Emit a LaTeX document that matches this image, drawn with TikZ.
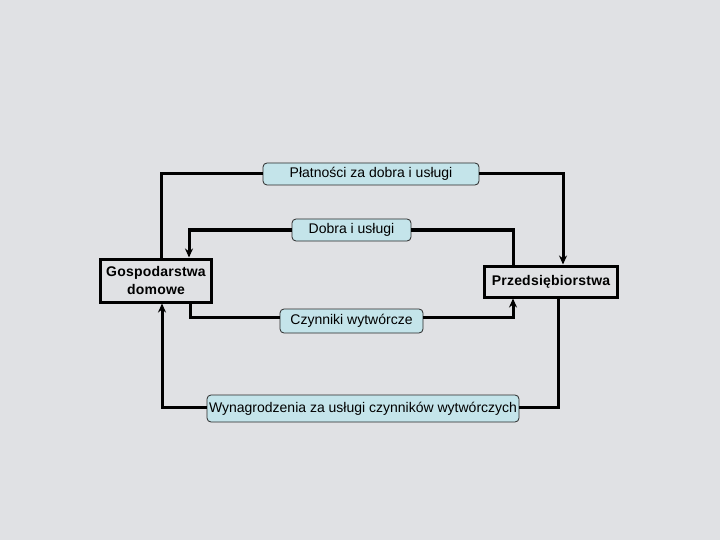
\documentclass[tikz,border=0pt]{standalone}
\usepackage{fontspec}
\setmainfont{Liberation Sans}
\usetikzlibrary{arrows.meta}
\definecolor{bg}{RGB}{224,225,228}
\definecolor{lblue}{RGB}{196,228,234}
\definecolor{edge}{RGB}{40,40,40}
\tikzset{
  lbl/.style={draw=edge, line width=0.8pt, fill=lblue, rounded corners=4pt, inner sep=0pt, font=\fontsize{14}{16}\selectfont},
  actor/.style={draw=black, line width=3pt, inner sep=0pt, align=center, font=\fontsize{14}{18}\selectfont\bfseries\addfontfeatures{LetterSpace=1.5}},
  flow/.style={line width=3pt, draw=black},
  arr/.style={flow, -{Stealth[length=9pt,width=8pt]}}
}
\begin{document}
\begin{tikzpicture}[x=1pt,y=-1pt]
\fill[bg] (0,0) rectangle (720,540);
\useasboundingbox (0,0) rectangle (720,540);

\node[lbl, minimum width=216pt, minimum height=22pt] (P) at (371,174) {Płatności za dobra i usługi};
\node[lbl, minimum width=119pt, minimum height=22pt] (D) at (351.5,230) {Dobra i usługi};
\node[lbl, minimum width=143pt, minimum height=24pt] (C) at (351.5,321) {Czynniki wytwórcze};
\node[lbl, minimum width=312pt, minimum height=27pt] (W) at (363,408.5) {Wynagrodzenia za usługi czynników wytwórczych};

\node[actor, minimum width=111pt, minimum height=43pt] (G) at (156,280.5) {Gospodarstwa\\domowe};
\node[actor, minimum width=133pt, minimum height=31pt] (R) at (551,281.5) {Przedsiębiorstwa};

\draw[flow] (P.west) -| ([xshift=5pt]G.north);
\draw[arr] (P.east) -| ([xshift=12pt]R.north);
\draw[flow] (D.east) -| ([xshift=-38pt]R.north);
\draw[arr] (D.west) -| ([xshift=33pt]G.north);
\draw[flow] ([xshift=34pt]G.south) |- ([yshift=4pt]C.west);
\draw[arr] ([yshift=4pt]C.east) -| ([xshift=-38pt]R.south);
\draw[flow] ([xshift=7pt]R.south) |- ([yshift=1.5pt]W.east);
\draw[arr] ([yshift=1.5pt]W.west) -| ([xshift=6pt]G.south);
\end{tikzpicture}
\end{document}
